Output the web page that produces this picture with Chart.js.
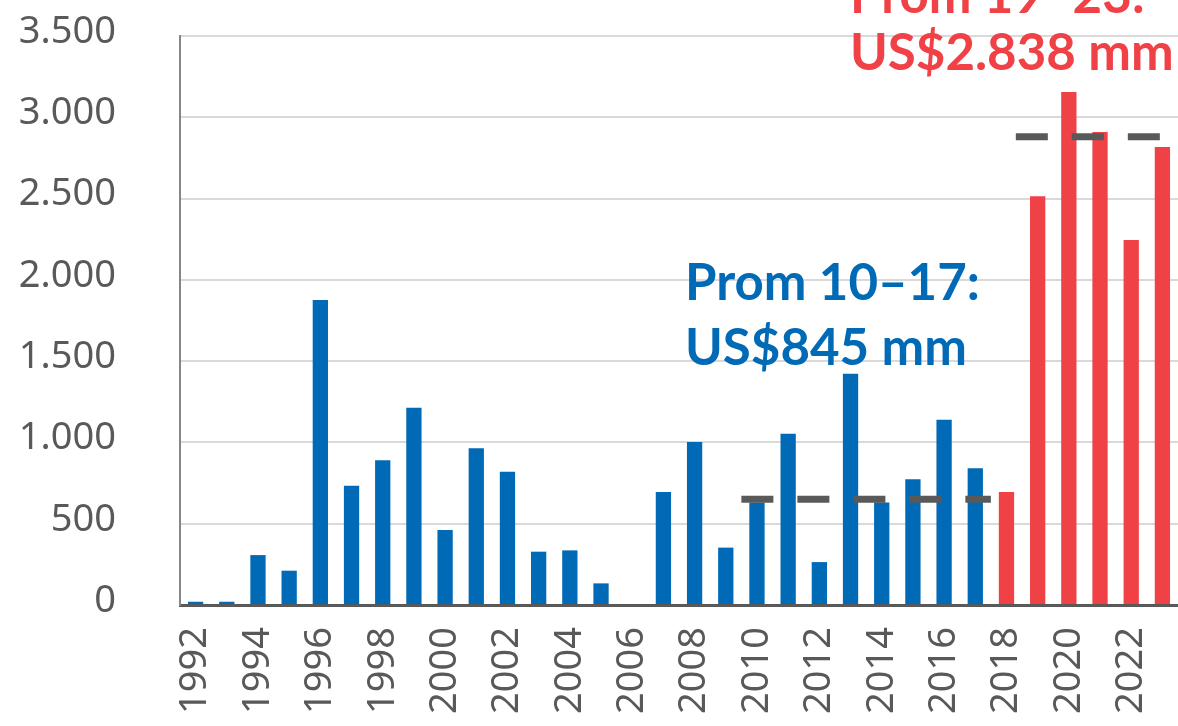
<!DOCTYPE html>
<html>
<head>
<meta charset="utf-8">
<script src="https://cdn.jsdelivr.net/npm/chart.js@4/dist/chart.umd.min.js"></script>
<style>
  body { margin: 0; background: #fff; }
  #wrap { width: 1178px; height: 726px; }
</style>
</head>
<body>
<div id="wrap"><canvas id="promChart"></canvas></div>
<script>
// años y montos (US$ mm)
const years = ['1992','1993','1994','1995','1996','1997','1998','1999','2000','2001','2002',
  '2003','2004','2005','2006','2007','2008','2009','2010','2011','2012','2013','2014',
  '2015','2016','2017','2018','2019','2020','2021','2022','2023'];
const values = [20, 20, 307, 211, 1876, 734, 890, 1213, 461, 964, 820,
  328, 336, 133, 0, 695, 1002, 353, 630, 1054, 264, 1423, 630,
  773, 1140, 841, 695, 2515, 3155, 2909, 2245, 2817];
const yTicks = [0, 500, 1000, 1500, 2000, 2500, 3000, 3500];

// promedios (líneas punteadas)
const avgFrom = ['2010', '2019'];
const avgTo = ['2017', '2023'];
const avgValue = [650, 2880];

const splitYear = 2018;
const blue = '#006AB6';
const red = '#EF4146';
const grey = '#595959';

const barColors = years.map(y => Number(y) >= splitYear ? red : blue);

// dibuja las líneas de promedio y los textos
const extras = {
  id: 'extras',
  afterDatasetsDraw(chart) {
    const ctx = chart.ctx;
    const x = chart.scales.x, y = chart.scales.y;
    const cw = x.getPixelForValue(1) - x.getPixelForValue(0);
    const offs = [[-0.5, 0.5], [-0.7, 0]];
    ctx.save();
    ctx.strokeStyle = grey;
    ctx.lineWidth = 7;
    ctx.setLineDash([32, 24]);
    for (let i = 0; i < avgValue.length; i++) {
      const x0 = x.getPixelForValue(years.indexOf(avgFrom[i])) + offs[i][0] * cw;
      const x1 = x.getPixelForValue(years.indexOf(avgTo[i])) + offs[i][1] * cw;
      const py = y.getPixelForValue(avgValue[i]);
      ctx.beginPath();
      ctx.moveTo(x0, py);
      ctx.lineTo(x1, py);
      ctx.stroke();
    }
    ctx.setLineDash([]);
    ctx.font = 'bold 51px Lato';
    ctx.textAlign = 'left';
    ctx.textBaseline = 'alphabetic';
    ctx.fillStyle = blue;
    ctx.fillText('Prom 10–17:', 685, 300);
    ctx.fillText('US$845 mm', 685, 365);
    ctx.fillStyle = red;
    ctx.fillText('Prom 19–23:', 850, 13);
    ctx.fillText('US$2.838 mm', 850, 70);
    ctx.restore();
  }
};

const ctx = document.getElementById('promChart').getContext('2d');
const chart = new Chart(ctx, {
  type: 'bar',
  data: {
    labels: years,
    datasets: [{
      data: values,
      backgroundColor: barColors,
      barPercentage: 1,
      categoryPercentage: 0.49
    }]
  },
  options: {
    responsive: true,
    maintainAspectRatio: false,
    animation: false,
    layout: { padding: { top: 36, right: 0, left: 0, bottom: 0 } },
    plugins: { legend: { display: false }, tooltip: { enabled: false } },
    scales: {
      x: {
        grid: { display: false, drawTicks: false },
        border: { color: grey, width: 3 },
        afterFit: s => { s.height = 121; s.paddingLeft = 0; s.paddingRight = 0; },
        ticks: {
          autoSkip: false,
          minRotation: 90,
          maxRotation: 90,
          padding: 22,
          color: grey,
          font: { family: 'Noto Sans', size: 38 },
          callback: (v, i) => i % 2 === 0 ? years[i] : ''
        }
      },
      y: {
        min: 0,
        max: 3500,
        afterFit: s => { s.width = 180; s.paddingTop = 0; s.paddingBottom = 0; },
        afterBuildTicks: s => { s.ticks = yTicks.map(v => ({ value: v })); },
        grid: { color: '#D9D9D9', lineWidth: 2, drawTicks: false },
        border: { color: '#868686', width: 2 },
        ticks: {
          padding: 64,
          labelOffset: -4,
          color: grey,
          font: { family: 'Noto Sans', size: 38 },
          callback: v => v.toLocaleString('de-DE')
        }
      }
    }
  },
  plugins: [extras]
});
</script>
</body>
</html>
